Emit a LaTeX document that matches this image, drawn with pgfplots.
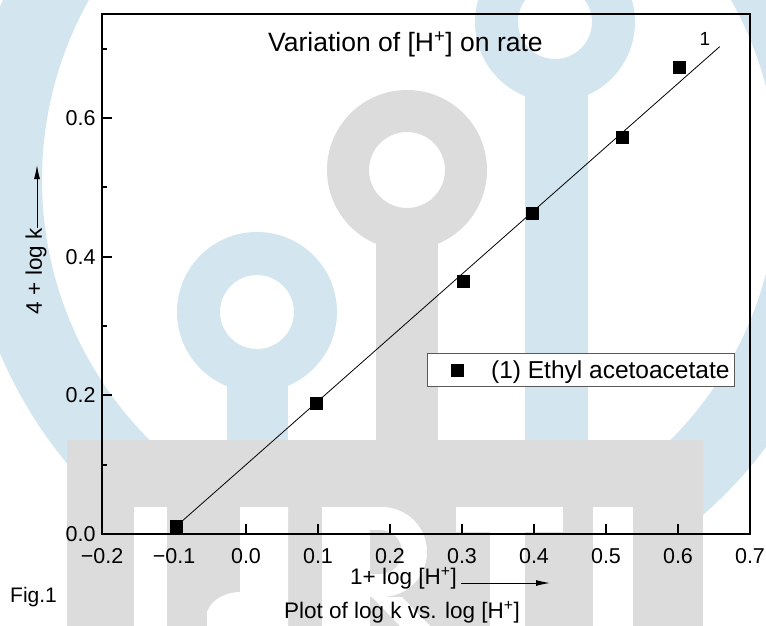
\documentclass[border=0pt]{standalone}
\usepackage{fontspec}
\setmainfont{Liberation Sans}
\usepackage{pgfplots}
\pgfplotsset{compat=1.18}
\usetikzlibrary{arrows.meta}
\definecolor{wmblue}{RGB}{211,229,239}
\definecolor{wmgray}{RGB}{220,220,220}
\newcommand{\fs}[1]{\fontsize{#1bp}{#1bp}\selectfont}

\begin{document}
\begin{tikzpicture}
\path[use as bounding box] (0,0) rectangle (766bp,-626bp);

% watermark in the background (image pixel coordinates)
\begin{scope}[x=1bp,y=-1bp]
  \clip (0,0) rectangle (766,626);
  \fill[wmblue,even odd rule] (410,180) circle[radius=445] (410,180) circle[radius=368];
  % keys
  \fill[wmblue,even odd rule] (257,312) circle[radius=80] (257,312) circle[radius=37];
  \fill[wmblue] (227,360) rectangle (288,440);
  \fill[wmblue,even odd rule] (555,22) circle[radius=80] (555,22) circle[radius=37];
  \fill[wmblue] (525,65) rectangle (588,440);
  \fill[wmgray,even odd rule] (407,170) circle[radius=80] (407,170) circle[radius=38];
  \fill[wmgray] (376,215) rectangle (438,440);
  % block with letters
  \fill[wmgray] (67,440) rectangle (703,626);
  \fill[white] (134,507) rectangle (167,626);
  \fill[white] (240,507) -- (288,507) -- (288,626) -- (207,626) -- (207,612)
     .. controls (212,598) and (228,592) .. (240,592) -- cycle;
  \fill[white] (322,507) rectangle (370,626);
  \fill[white] (322,507) -- (382,507) arc[start angle=-90,end angle=90,radius=45] -- (322,597) -- cycle;
  \fill[wmgray] (370,530) -- (380,530) arc[start angle=-90,end angle=90,radius=22] -- (370,574) -- cycle;
  \fill[white] (372,597) -- (402,597) -- (430,626) -- (400,626) -- cycle;
  \fill[white] (456,507) rectangle (563,532);
  \fill[white] (490,507) rectangle (525,626);
  \fill[white] (593,507) rectangle (633,626);
\end{scope}

\begin{axis}[
  at={(102bp,-534bp)}, anchor=south west,
  width=648bp, height=520bp, scale only axis,
  xmin=-0.2, xmax=0.7, ymin=0, ymax=0.75,
  xtick={-0.2,-0.1,0,0.1,0.2,0.3,0.4,0.5,0.6,0.7},
  xticklabels={−0.2,−0.1,0.0,0.1,0.2,0.3,0.4,0.5,0.6,0.7},
  ytick={0,0.2,0.4,0.6},
  yticklabels={0.0,0.2,0.4,0.6},
  minor ytick={0.1,0.3,0.5,0.7},
  tick align=inside, xtick pos=bottom, ytick pos=left,
  major tick length=10bp, minor tick length=5bp,
  tick style={black, line width=2bp},
  axis line style={line width=1.3bp},
  tick label style={font=\fs{21.5}},
  xticklabel style={yshift=-11bp},
  yticklabel style={xshift=-3bp},
  title={Variation of [H\textsuperscript{+}] on rate},
  title style={at={(axis description cs:0.2562,0.9173)}, anchor=base west, inner sep=0pt, font=\fs{26.5}},
  xlabel={1+ log [H\textsuperscript{+}]},
  xlabel style={at={(axis description cs:0.3827,-0.0962)}, anchor=base west, inner sep=0pt, font=\fs{22.5}},
  ylabel={4 + log k},
  ylabel style={at={(axis description cs:-0.0926,0.5053)}, anchor=base, inner sep=0pt, font=\fs{22.5}},
  legend style={at={(axis description cs:0.5015,0.348)}, anchor=north west,
    draw=black!65, line width=0.8bp, fill=white, inner xsep=3bp, inner ysep=5bp,
    font=\fs{24.5}, cells={anchor=west}},
  legend image code/.code={%
    \path (0bp,0bp) (58bp,0bp);
    \draw[#1] plot coordinates {(27bp,0bp)};},
]
\draw[line width=2.3bp] (rel axis cs:0,1) -- (rel axis cs:0,0) -- (rel axis cs:1,0);

% fitted line
\addplot[black, line width=0.8bp, forget plot] coordinates {(-0.096,0.012) (0.658,0.703)};

% measured points
\addplot[only marks, mark=square*, mark size=6bp, black] coordinates {
  (-0.097,0.0115) (0.097,0.1885) (0.301,0.364) (0.398,0.4626) (0.523,0.573) (0.602,0.674)
};
\addlegendentry{(1) Ethyl acetoacetate}

\node[anchor=base, inner sep=0pt, font=\fs{19}] at (axis cs:0.6375,0.705) {1};
\end{axis}

\draw[line width=1bp, -{Latex[length=14bp,width=6bp]}] (461bp,-583bp) -- (550bp,-583bp);
\draw[line width=1bp, -{Latex[length=14bp,width=6bp]}] (37bp,-228bp) -- (37bp,-165bp);
\node[anchor=base, inner sep=0pt, font=\fs{22.5}] at (402bp,-618bp) {Plot of log k vs. log [H\textsuperscript{+}]};
\node[anchor=base west, inner sep=0pt, font=\fs{21}] at (10bp,-602bp) {Fig.1};
\end{tikzpicture}
\end{document}
